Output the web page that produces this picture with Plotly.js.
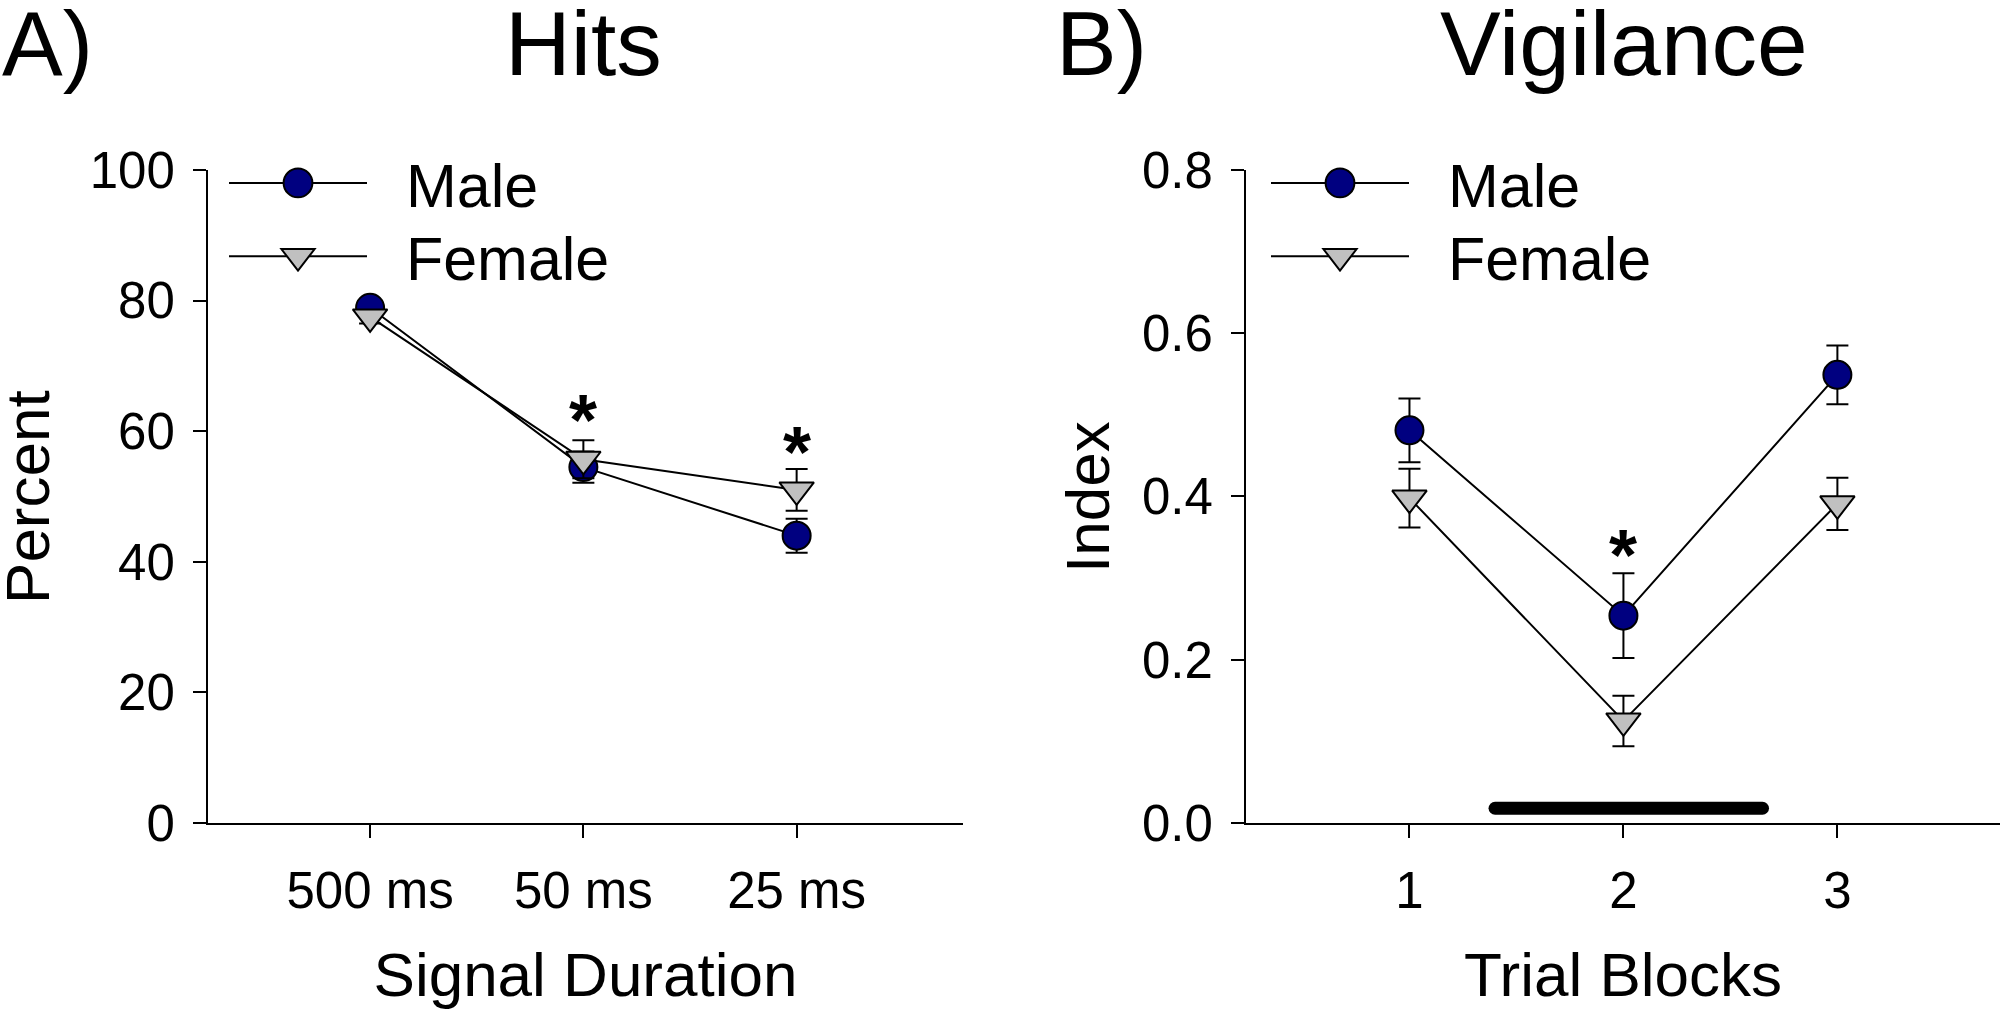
<!DOCTYPE html>
<html><head><meta charset="utf-8">
<script src="https://cdn.plot.ly/plotly-3.0.1.min.js"></script>
<style>html,body{margin:0;padding:0;background:#fff}#chart{width:2000px;height:1013px}</style>
</head><body><div id="chart"></div>
<script>
// Panel A: Hits
const durations = ['500 ms', '50 ms', '25 ms'];
const hitsMale = [78.9, 54.5, 44.0];
const hitsMaleErr = [1.0, 2.4, 2.6];
const hitsFemale = [77.5, 55.7, 51.0];
const hitsFemaleErr = [1.0, 2.9, 3.2];
const hitsStarX = ['50 ms', '25 ms'];
const hitsStarY = [63.3, 58.4];

// Panel B: Vigilance
const blocks = [1, 2, 3];
const vigMale = [0.481, 0.254, 0.549];
const vigMaleErr = [0.039, 0.052, 0.036];
const vigFemale = [0.398, 0.125, 0.391];
const vigFemaleErr = [0.036, 0.031, 0.032];
const vigStarX = [2];
const vigStarY = [0.341];
const barX = [1.4, 2.65];
const barY = [0.018, 0.018];

const seriesNames = ['Male', 'Female'];

const FONT = 'Arial, "Liberation Sans", sans-serif';
const maleStyle = {color: '#000080', size: 28, symbol: 'circle', line: {color: '#000', width: 2}};
const femaleStyle = {color: '#C0C0C0', size: 30, symbol: 'triangle-down', line: {color: '#000', width: 2}};
const err = (a) => ({type: 'data', array: a, visible: true, color: '#000', thickness: 2, width: 11});
const pad = '\u00a0\u00a0';

const traces = [
  {x: durations, y: hitsMale, name: pad + seriesNames[0], mode: 'lines+markers', marker: maleStyle,
   line: {color: '#000', width: 2}, error_y: err(hitsMaleErr), xaxis: 'x', yaxis: 'y', legend: 'legend'},
  {x: durations, y: hitsFemale, name: pad + seriesNames[1], mode: 'lines+markers', marker: femaleStyle,
   line: {color: '#000', width: 2}, error_y: err(hitsFemaleErr), xaxis: 'x', yaxis: 'y', legend: 'legend'},
  {x: blocks, y: vigMale, name: pad + seriesNames[0], mode: 'lines+markers', marker: maleStyle,
   line: {color: '#000', width: 2}, error_y: err(vigMaleErr), xaxis: 'x2', yaxis: 'y2', legend: 'legend2'},
  {x: blocks, y: vigFemale, name: pad + seriesNames[1], mode: 'lines+markers', marker: femaleStyle,
   line: {color: '#000', width: 2}, error_y: err(vigFemaleErr), xaxis: 'x2', yaxis: 'y2', legend: 'legend2'},
  {x: barX, y: barY, mode: 'lines', line: {color: '#000', width: 13}, showlegend: false,
   xaxis: 'x2', yaxis: 'y2', hoverinfo: 'skip'}
];

const tickFont = {family: FONT, size: 51, color: '#000'};
const titleFont = {family: FONT, size: 62, color: '#000'};
const axisCommon = {showgrid: false, zeroline: false, showline: true, linecolor: '#000', linewidth: 2,
  ticks: 'outside', ticklen: 13, tickwidth: 2, tickcolor: '#000', tickfont: tickFont, automargin: false};
const yDomain = [0.1876, 0.8322];

const annotations = [];
const star = (x, y, xref, yref) => ({x: x, y: y, xref: xref, yref: yref, text: '<b>*</b>', showarrow: false,
  font: {family: FONT, size: 72, color: '#000'}, yanchor: 'middle', yshift: -10});
hitsStarX.forEach((x, i) => annotations.push(star(x, hitsStarY[i], 'x', 'y')));
vigStarX.forEach((x, i) => annotations.push(star(x, vigStarY[i], 'x2', 'y2')));
const big = (text, x, xanchor) => ({x: x, y: 0.957, xref: 'paper', yref: 'paper', text: text, showarrow: false,
  xanchor: xanchor, yanchor: 'middle', font: {family: FONT, size: 91, color: '#000'}});
annotations.push(big('A)', 0.0, 'left'));
annotations.push(big('Hits', 0.2915, 'center'));
annotations.push(big('B)', 0.527, 'left'));
annotations.push(big('Vigilance', 0.812, 'center'));
const yTitle = (text, x) => ({x: x, y: 0.5094, xref: 'paper', yref: 'paper', text: text, showarrow: false,
  textangle: -90, xanchor: 'center', yanchor: 'middle', font: titleFont});
annotations.push(yTitle('Percent', 0.014));
annotations.push(yTitle('Index', 0.544));

const legendCommon = {font: {family: FONT, size: 61, color: '#000'}, bgcolor: 'rgba(0,0,0,0)',
  borderwidth: 0, itemwidth: 138, xanchor: 'left', yanchor: 'top', tracegroupgap: 0};

const layout = {
  width: 2000, height: 1013,
  margin: {l: 0, r: 0, t: 0, b: 0},
  paper_bgcolor: '#fff', plot_bgcolor: '#fff',
  showlegend: true,
  xaxis: Object.assign({}, axisCommon, {domain: [0.104, 0.4815], anchor: 'y', type: 'category', range: [-0.76, 2.78],
    title: {text: 'Signal Duration', font: titleFont, standoff: 34}, ticklabelstandoff: 9}),
  yaxis: Object.assign({}, axisCommon, {domain: yDomain, anchor: 'x', range: [0, 100], tickvals: [0, 20, 40, 60, 80, 100],
    ticklabelstandoff: 8}),
  xaxis2: Object.assign({}, axisCommon, {domain: [0.623, 1.0], anchor: 'y2', range: [0.236, 3.76], tickvals: blocks,
    title: {text: 'Trial Blocks', font: titleFont, standoff: 34}, ticklabelstandoff: 9}),
  yaxis2: Object.assign({}, axisCommon, {domain: yDomain, anchor: 'x2', range: [0, 0.8], tickvals: [0, 0.2, 0.4, 0.6, 0.8], tickformat: '.1f',
    ticklabelstandoff: 8}),
  legend: Object.assign({}, legendCommon, {x: 0.112, y: 0.865}),
  legend2: Object.assign({}, legendCommon, {x: 0.633, y: 0.865}),
  annotations: annotations
};

Plotly.newPlot('chart', traces, layout, {staticPlot: true}).then(function (gd) {
  // enlarge legend symbols to match the plotted marker size
  gd.querySelectorAll('.legendpoints path.scatterpts').forEach(function (p) {
    p.setAttribute('vector-effect', 'non-scaling-stroke');
    const t = p.getAttribute('transform') || '';
    p.setAttribute('transform', t + ' scale(1.8)');
  });
  // tighten the row spacing of the legends
  ['legend', 'legend2'].forEach(function (cls) {
    const groups = gd.querySelectorAll('g.' + cls + ' g.traces');
    groups.forEach(function (g, i) {
      const t = g.getAttribute('transform') || '';
      const m = t.match(/translate\(\s*([-\d.]+)[ ,]+([-\d.]+)\s*\)/);
      if (m && i > 0) g.setAttribute('transform', 'translate(' + m[1] + ',' + (parseFloat(m[2]) - 9 * i) + ')');
    });
  });
  // rounded ends on the thick bar
  gd.querySelectorAll('.scatterlayer .trace').forEach(function (tr, i) {
    if (i === 4) tr.querySelectorAll('path.js-line').forEach(function (p) { p.style.strokeLinecap = 'round'; });
  });
});
</script></body></html>
